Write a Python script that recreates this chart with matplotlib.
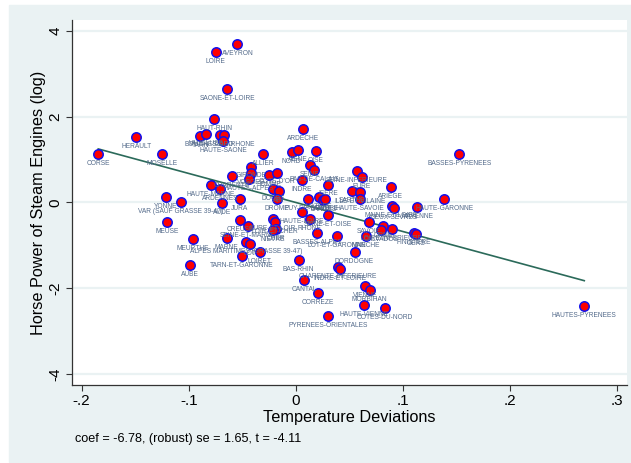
import numpy as np
import matplotlib.pyplot as plt
from matplotlib.patches import Rectangle

# departements, residualised temperature and log horse power
depts = ["AVEYRON", "LOIRE", "SAONE-ET-LOIRE", "HAUT-RHIN", "HERAULT", "CORSE", "MOSELLE",
         "TARN", "VAUCLUSE", "BOUCHES-DU-RHONE", "GARD", "HAUTE-SAONE", "ALLIER", "ARDECHE",
         "NORD", "AISNE", "OISE", "SEINE", "PAS-DE-CALAIS", "INDRE", "GIRONDE", "VOSGES",
         "HAUTES-ALPES", "CHARENTE", "SOMME", "COTE-D'OR", "HAUTE-MARNE", "ARDENNES", "JURA",
         "YONNE", "VAR (SAUF GRASSE 39-47)", "AUDE", "MEUSE", "MEURTHE", "MARNE",
         "ALPES MARITIMES (GRASSE 39-47)", "LOT", "LOIRET", "TARN-ET-GARONNE", "AUBE", "CREUSE",
         "SEINE-ET-MARNE", "EURE-ET-LOIR", "LOIR-ET-CHER", "CHER", "NIEVRE", "DOUBS", "AIN",
         "DROME", "PUY-DE-DOME", "ISERE", "HAUTE-LOIRE", "LOZERE", "LANDES", "VENDEE",
         "SEINE-INFERIEURE", "EURE", "SARTHE", "ILLE-ET-VILAINE", "HAUTE-SAVOIE", "ARIEGE",
         "BASSES-PYRENEES", "HAUTE-GARONNE", "MAINE-ET-LOIRE", "DEUX-SEVRES", "MAYENNE",
         "SEINE-ET-OISE", "RHONE", "BASSES-ALPES", "LOT-ET-GARONNE", "SAVOIE", "ORNE",
         "CALVADOS", "LOIRE-INFERIEURE", "FINISTERE", "GERS", "MANCHE", "BAS-RHIN", "DORDOGNE",
         "CHARENTE-INFERIEURE", "INDRE-ET-LOIRE", "CANTAL", "CORREZE", "PYRENEES-ORIENTALES",
         "VIENNE", "MORBIHAN", "HAUTE-VIENNE", "COTES-DU-NORD", "HAUTES-PYRENEES"]

temp_dev = [-0.0546, -0.0748, -0.0639, -0.0764, -0.1491, -0.1845, -0.1252,
            -0.0893, -0.0839, -0.0711, -0.0667, -0.0680, -0.0308, 0.0069,
            -0.0040, 0.0021, 0.0186, 0.0130, 0.0168, 0.0056, -0.0422, -0.0419,
            -0.0438, -0.0596, -0.0252, -0.0180, -0.0797, -0.0708, -0.0525,
            -0.1214, -0.1073, -0.0686, -0.1205, -0.0960, -0.0646,
            -0.0462, -0.0432, -0.0336, -0.0503, -0.0993, -0.0518,
            -0.0447, -0.0214, -0.0199, -0.0185, -0.0212, -0.0211, -0.0161,
            -0.0177, 0.0112, 0.0297, 0.0058, 0.0214, 0.0255, 0.0274,
            0.0566, 0.0612, 0.0521, 0.0596, 0.0594, 0.0883,
            0.1524, 0.1383, 0.0892, 0.0917, 0.1134,
            0.0298, 0.0130, 0.0198, 0.0386, 0.0678, 0.0817,
            0.0796, 0.0895, 0.1102, 0.1116, 0.0656, 0.0025, 0.0547,
            0.0389, 0.0414, 0.0078, 0.0202, 0.0302,
            0.0647, 0.0687, 0.0637, 0.0833, 0.2691]

hp_log = [3.70, 3.51, 2.64, 1.95, 1.52, 1.14, 1.14,
          1.56, 1.59, 1.58, 1.58, 1.43, 1.14, 1.72,
          1.17, 1.23, 1.21, 0.87, 0.76, 0.53, 0.84, 0.69,
          0.55, 0.62, 0.65, 0.70, 0.41, 0.31, 0.09,
          0.13, 0.02, -0.02, -0.45, -0.86, -0.82,
          -0.92, -0.96, -1.15, -1.25, -1.46, -0.41,
          -0.55, -0.39, -0.46, -0.62, -0.64, 0.31, 0.27,
          0.09, 0.08, 0.42, -0.23, 0.13, 0.06, 0.09,
          0.73, 0.60, 0.27, 0.24, 0.08, 0.36,
          1.13, 0.09, -0.09, -0.12, -0.10,
          -0.29, -0.39, -0.71, -0.79, -0.46, -0.54,
          -0.64, -0.62, -0.71, -0.73, -0.78, -1.34, -1.16,
          -1.51, -1.55, -1.82, -2.12, -2.66,
          -1.94, -2.04, -2.39, -2.46, -2.42]

coef = -6.78
note = "coef = -6.78, (robust) se = 1.65, t = -4.11"

plt.rcParams['font.family'] = ['Liberation Sans', 'DejaVu Sans']

fig = plt.figure(figsize=(6.31, 4.63), dpi=100)
fig.patches.append(Rectangle((9 / 631, 0.002), 1 - 9 / 631, 0.987,
                             transform=fig.transFigure, color='#eaf2f3', zorder=-10))
ax = fig.add_axes([0.1141, 0.1685, 0.8796, 0.7883])
ax.set_facecolor('white')

x = np.array(temp_dev)
y = np.array(hp_log)
intercept = y.mean() - coef * x.mean()
xs = np.array([x.min(), x.max()])
ax.plot(xs, intercept + coef * xs, color='#2b6a5a', lw=1.2, zorder=2)

ax.scatter(x, y, s=46, facecolor='red', edgecolor='#1010ee', linewidth=1.1, zorder=3)
for name, xi, yi in zip(depts, x, y):
    ax.annotate(name, (xi, yi), xytext=(0, -6.8), textcoords='offset points',
                ha='center', va='center', fontsize=4.8, color='#536a8a', zorder=4)

ax.set_xlim(-0.209, 0.309)
ax.set_ylim(-4.26, 4.26)
ax.set_xticks([-0.2, -0.1, 0, 0.1, 0.2, 0.3])
ax.set_xticklabels(['-.2', '-.1', '0', '.1', '.2', '.3'])
ax.set_yticks([-4, -2, 0, 2, 4])
ax.set_yticklabels(['-4', '-2', '0', '2', '4'], rotation=90, va='center')
ax.tick_params(labelsize=11, length=4.3, width=0.8, color='#333333', pad=2.5)
ax.grid(axis='y', color='#eaf2f3', lw=1.6)
ax.set_axisbelow(True)
for s in ['top', 'right']:
    ax.spines[s].set_visible(False)
for s in ['left', 'bottom']:
    ax.spines[s].set_color('#333333')
    ax.spines[s].set_linewidth(0.9)

ax.set_xlabel('Temperature Deviations', fontsize=11.7, labelpad=1)
ax.set_ylabel('Horse Power of Steam Engines (log)', fontsize=11.7, labelpad=2)
fig.text(75 / 631, 1 - 439 / 463, note, fontsize=9.1, va='center', ha='left')

fig.savefig('out.png', dpi=100)
